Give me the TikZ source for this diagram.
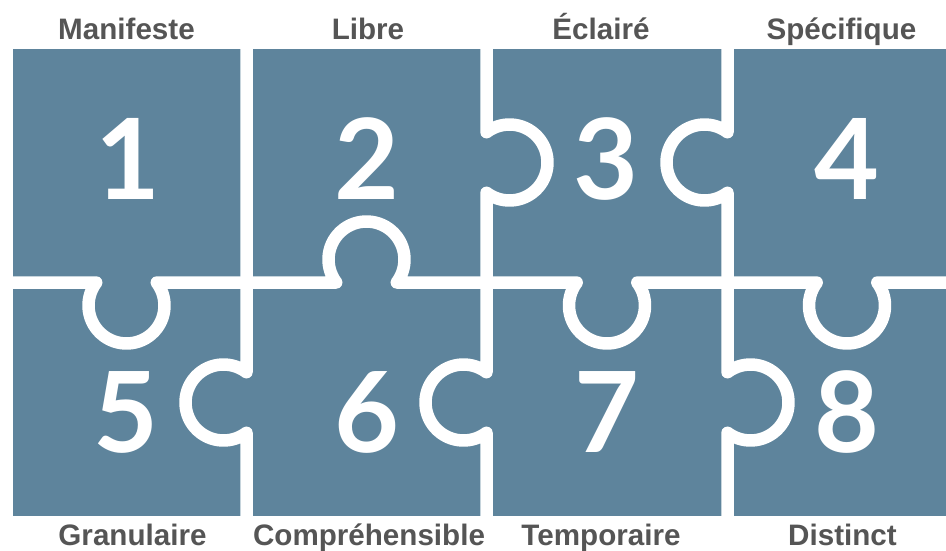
\documentclass[tikz,border=0pt]{standalone}
\usepackage{fontspec}
\setmainfont{Liberation Sans}
\newfontfamily\numfont{Lato}
\definecolor{pz}{HTML}{5E849C}
\definecolor{lbl}{HTML}{555555}
\begin{document}
\begin{tikzpicture}[x=1pt,y=1pt,
  cut/.style={white, line width=12.5pt, line join=round},
  lab/.style={anchor=base, text=lbl, inner sep=0pt, font=\bfseries\fontsize{29.6}{30}\selectfont},
  num/.style={anchor=base, text=white, inner sep=0pt, font=\numfont\bfseries\fontsize{112}{112}\selectfont}]
\useasboundingbox (0,0) rectangle (946,550);
\fill[pz] (13,34) rectangle (946,501);
% horizontal cut
\draw[cut] (0,267.5) -- (96.25,267.5)
  arc[start angle=142.75, end angle=397.25, radius=38pt] -- (336.25,267.5)
  arc[start angle=217.25, end angle=-37.25, radius=38pt] -- (576.75,267.5)
  arc[start angle=142.75, end angle=397.25, radius=38pt] -- (816.75,267.5)
  arc[start angle=142.75, end angle=397.25, radius=38pt] -- (960,267.5);
% vertical cuts
\draw[cut] (246.5,510) -- (246.5,177.75)
  arc[start angle=52.75, end angle=307.25, radius=38pt] -- (246.5,20);
\draw[cut] (486.5,510) -- (486.5,417.75)
  arc[start angle=127.25, end angle=-127.25, radius=38pt] -- (486.5,177.75)
  arc[start angle=52.75, end angle=307.25, radius=38pt] -- (486.5,20);
\draw[cut] (727.5,510) -- (727.5,417.75)
  arc[start angle=52.75, end angle=307.25, radius=38pt] -- (727.5,177.75)
  arc[start angle=127.25, end angle=-127.25, radius=38pt] -- (727.5,20);
% numbers
\node[num] (p1) at (128,350) {1};
\node[num] (p2) at (367,350) {2};
\node[num] (p3) at (606,350) {3};
\node[num] (p4) at (847,350) {4};
\node[num] (p5) at (126,98) {5};
\node[num] (p6) at (367,98) {6};
\node[num] (p7) at (607,98) {7};
\node[num] (p8) at (847,98) {8};
% labels
\node[lab] (l1) at (126.5,510) {Manifeste};
\node[lab] (l2) at (368,510) {Libre};
\node[lab] (l3) at (601,510) {Éclairé};
\node[lab] (l4) at (841.5,510) {Spécifique};
\node[lab] (l5) at (132.5,5) {Granulaire};
\node[lab] (l6) at (369,5) {Compréhensible};
\node[lab] (l7) at (601,5) {Temporaire};
\node[lab] (l8) at (842.5,5) {Distinct};
\end{tikzpicture}
\end{document}
